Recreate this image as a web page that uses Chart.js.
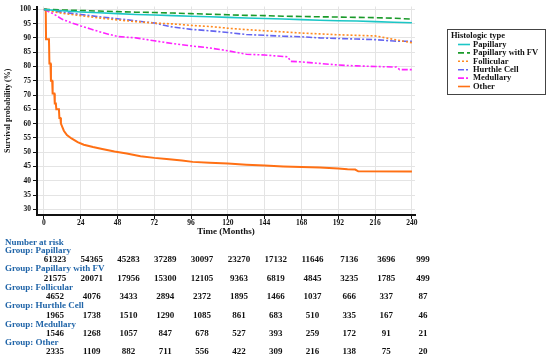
<!DOCTYPE html>
<html>
<head>
<meta charset="utf-8">
<script src="https://cdn.jsdelivr.net/npm/chart.js@4.4.1/dist/chart.umd.min.js"></script>
<style>
body { margin: 0; background: #fff; }
#wrap { position: relative; width: 550px; height: 360px; overflow: hidden; font-family: "Liberation Serif", serif; font-weight: bold; }
#wrap canvas { position: absolute; left: 0; top: 0; }
.risk { position: absolute; font-size: 9px; line-height: 10px; white-space: nowrap; }
.hdr { color: #1f64a8; left: 5px; }
.num { color: #111; transform: translateX(-50%); }
</style>
</head>
<body>
<div id="wrap">
  <canvas id="km" width="550" height="240"></canvas>
  <div id="table"></div>
</div>
<script>
// survival curves (months, %)
const months = [0, 6, 12, 24, 36, 48, 60, 72, 84, 96, 108, 120, 132, 144, 156, 168, 180, 192, 204, 216, 228, 240];
const papillary = [100, 99.7, 99.5, 99.1, 98.8, 98.5, 98.2, 98.0, 97.8, 97.6, 97.4, 97.2, 97.0, 96.8, 96.6, 96.4, 96.2, 96.0, 95.9, 95.7, 95.5, 95.3];
const papillaryFV = [100, 99.9, 99.8, 99.6, 99.4, 99.2, 99.0, 98.9, 98.7, 98.5, 98.3, 98.1, 97.9, 97.8, 97.6, 97.5, 97.4, 97.3, 97.2, 97.1, 96.9, 96.6];
const follicular = [100, 99.2, 98.6, 97.8, 97.0, 96.3, 95.7, 95.2, 94.9, 94.4, 94.0, 93.4, 92.9, 92.5, 92.1, 91.7, 91.4, 91.1, 90.9, 90.7, 89.5, 88.3];
const hurthle = [100, 99.5, 99.0, 98.2, 97.4, 96.7, 96.0, 95.2, 93.8, 93.0, 92.5, 91.9, 91.2, 90.9, 90.6, 90.4, 90.0, 89.8, 89.6, 89.4, 88.9, 88.8];

const medMonths = [0, 3, 6, 12, 18, 24, 30, 36, 42, 48, 60, 72, 84, 96, 108, 120, 132, 144, 156, 159, 161, 168, 192, 204, 216, 230, 232, 240];
const medullary = [100, 99.2, 98.5, 96.5, 95.3, 94.2, 93.2, 92.2, 91.3, 90.5, 90.0, 89.0, 88.0, 87.2, 86.5, 85.5, 84.3, 84.0, 83.5, 83.4, 81.8, 81.6, 80.5, 80.2, 80.0, 79.8, 78.9, 78.9];

const otherMonths = [0, 1.2, 1.4, 3.3, 3.6, 4.3, 4.6, 5.4, 5.7, 6.8, 7.1, 7.8, 8.1, 9.8, 10.1, 10.8, 11.1, 13, 15, 18, 22, 26, 32, 38, 46, 54, 63, 72, 80, 90, 97, 108, 120, 132, 144, 156, 168, 180, 192, 198, 203, 205, 240];
const other = [100, 100, 89.5, 89.5, 81, 81, 75, 75, 70.5, 70.5, 67, 67, 65, 65, 62, 62, 60, 57.5, 56, 54.8, 53.5, 52.6, 51.8, 51.1, 50.2, 49.5, 48.6, 48.0, 47.6, 47.1, 46.6, 46.3, 46.0, 45.6, 45.3, 45.0, 44.8, 44.6, 44.3, 44.0, 43.9, 43.3, 43.2];

const xTicks = [0, 24, 48, 72, 96, 120, 144, 168, 192, 216, 240];
const yTicks = [30, 35, 40, 45, 50, 55, 60, 65, 70, 75, 80, 85, 90, 95, 100];

// number at risk, one value per x tick
const riskGroups = ['Papillary', 'Papillary with FV', 'Follicular', 'Hurthle Cell', 'Medullary', 'Other'];
const riskPapillary = [61323, 54365, 45283, 37289, 30097, 23270, 17132, 11646, 7136, 3696, 999];
const riskFV = [21575, 20071, 17956, 15300, 12105, 9363, 6819, 4845, 3235, 1785, 499];
const riskFollicular = [4652, 4076, 3433, 2894, 2372, 1895, 1466, 1037, 666, 337, 87];
const riskHurthle = [1965, 1738, 1510, 1290, 1085, 861, 683, 510, 335, 167, 46];
const riskMedullary = [1546, 1268, 1057, 847, 678, 527, 393, 259, 172, 91, 21];
const riskOther = [2335, 1109, 882, 711, 556, 422, 309, 216, 138, 75, 20];

const pts = (xs, ys) => xs.map((x, i) => ({ x: x, y: ys[i] }));
const serif = '"Liberation Serif", "Times New Roman", serif';

const legendBox = {
    id: 'legendBox',
    afterDraw(chart) {
        const ctx = chart.ctx;
        ctx.save();
        ctx.strokeStyle = '#444';
        ctx.lineWidth = 1;
        ctx.strokeRect(447.5, 29.5, 98, 65);
        ctx.fillStyle = '#111';
        ctx.font = 'bold 8.5px ' + serif;
        ctx.textBaseline = 'middle';
        ctx.fillText('Histologic type', 451, 36);
        chart.data.datasets.forEach((ds, i) => {
            const y = 44.5 + i * 8.4;
            ctx.strokeStyle = ds.borderColor;
            ctx.lineWidth = 1.6;
            ctx.setLineDash(ds.borderDash || []);
            ctx.beginPath();
            ctx.moveTo(458, y);
            ctx.lineTo(470, y);
            ctx.stroke();
            ctx.setLineDash([]);
            ctx.fillText(ds.label, 473, y);
        });
        ctx.restore();
    }
};

const chart = new Chart(document.getElementById('km'), {
    type: 'line',
    data: {
        datasets: [
            { label: 'Papillary', data: pts(months, papillary), borderColor: '#1cc6c6' },
            { label: 'Papillary with FV', data: pts(months, papillaryFV), borderColor: '#1a9a2a', borderDash: [6, 3] },
            { label: 'Follicular', data: pts(months, follicular), borderColor: '#ff8a20', borderDash: [2, 2] },
            { label: 'Hurthle Cell', data: pts(months, hurthle), borderColor: '#6464f0', borderDash: [6, 2, 2, 2] },
            { label: 'Medullary', data: pts(medMonths, medullary), borderColor: '#ff22ff', borderDash: [6, 2, 2, 2, 2, 2] },
            { label: 'Other', data: pts(otherMonths, other), borderColor: '#ff7014', borderWidth: 2 }
        ]
    },
    options: {
        responsive: false,
        animation: false,
        devicePixelRatio: 1,
        layout: { padding: { top: 3, right: 135, left: 0, bottom: 0 } },
        elements: { point: { radius: 0 }, line: { borderWidth: 1.6, tension: 0, fill: false } },
        plugins: { legend: { display: false }, tooltip: { enabled: false } },
        scales: {
            x: {
                type: 'linear',
                min: -4.5,
                max: 242,
                afterBuildTicks: s => { s.ticks = xTicks.map(v => ({ value: v })); },
                afterFit: s => { s.height = 25; },
                grid: { color: '#e4e4e4', tickColor: '#111', tickLength: 4 },
                border: { color: '#111', width: 2 },
                ticks: { color: '#111', padding: 0, maxRotation: 0, font: { family: serif, size: 7.5, weight: 'bold' } },
                title: { display: true, text: 'Time (Months)', color: '#111', padding: { top: 0, bottom: 3 }, font: { family: serif, size: 9, weight: 'bold' } }
            },
            y: {
                min: 28,
                max: 101,
                afterBuildTicks: s => { s.ticks = yTicks.map(v => ({ value: v })); },
                afterFit: s => { s.width = 37; },
                grid: { color: '#e4e4e4', tickColor: '#111', tickLength: 4 },
                border: { color: '#111', width: 2 },
                ticks: { color: '#111', padding: 2, font: { family: serif, size: 7.5, weight: 'bold' } },
                title: { display: true, text: 'Survival probability (%)', color: '#111', padding: { top: 3, bottom: 0 }, font: { family: serif, size: 8, weight: 'bold' } }
            }
        }
    },
    plugins: [legendBox]
});

// number at risk table under the plot
const table = document.getElementById('table');
const riskRows = [riskPapillary, riskFV, riskFollicular, riskHurthle, riskMedullary, riskOther];
function addText(cls, text, left, top) {
    const d = document.createElement('div');
    d.className = 'risk ' + cls;
    d.textContent = text;
    d.style.top = top + 'px';
    if (left !== null) d.style.left = left + 'px';
    table.appendChild(d);
}
addText('hdr', 'Number at risk', null, 237);
riskRows.forEach((row, r) => {
    const top = 245 + r * 18.4;
    addText('hdr', 'Group: ' + riskGroups[r], null, top);
    row.forEach((n, i) => {
        const cx = chart.scales.x.getPixelForValue(xTicks[i]) + 11;
        addText('num', String(n), cx, top + 9.3);
    });
});
</script>
</body>
</html>
